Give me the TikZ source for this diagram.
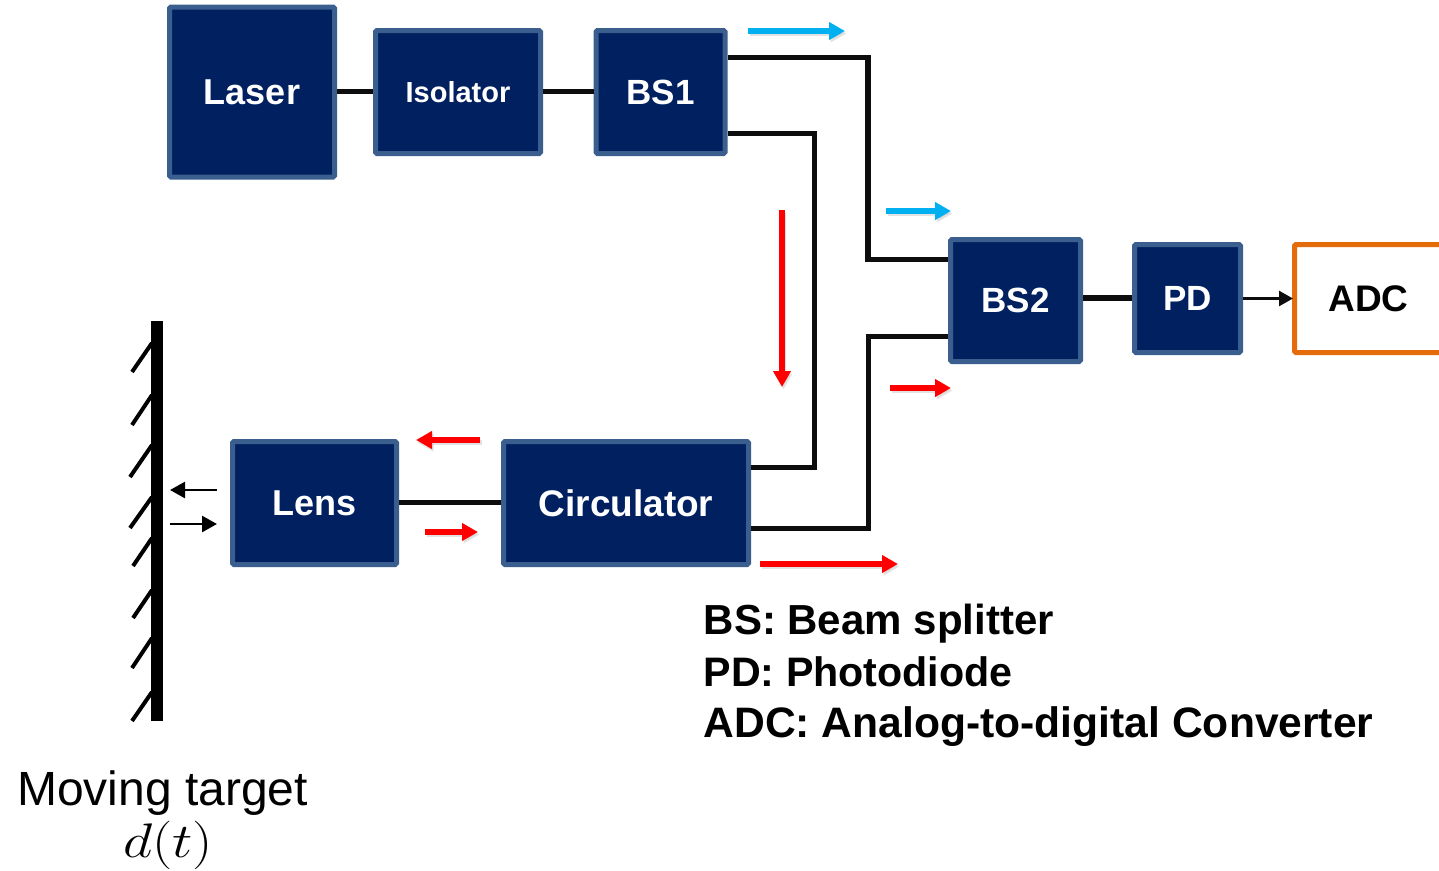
\documentclass[tikz,border=0pt]{standalone}
\usepackage{fontspec}
\usepackage{graphicx}
\setmainfont{Liberation Sans}
\usetikzlibrary{arrows.meta}
\definecolor{navy}{HTML}{002060}
\definecolor{edgeblue}{HTML}{3A5F8F}
\definecolor{adcorange}{HTML}{E46C0A}
\definecolor{beamblue}{HTML}{00B0F0}
\definecolor{beamred}{HTML}{FF0000}
\definecolor{wire}{HTML}{0D0D0D}
\newcommand{\pxfont}[1]{\fontsize{#1}{#1}\selectfont\bfseries}
\tikzset{
  x=1pt,y=-1pt,
  blockbox/.style={draw=edgeblue,fill=navy,line width=5pt,rounded corners=1.5pt,text=white,inner sep=0pt,align=center},
  wireline/.style={draw=wire,line width=5.5pt},
  beamline/.style={line width=5.5pt,-{Triangle[length=16pt,width=17pt]}},
  smallbeam/.style={draw=black,line width=2.5pt,-{Triangle[length=15pt,width=16pt]}},
  hatchline/.style={draw=black,line width=4pt},
  legendtext/.style={anchor=base west,inner sep=0pt},
}
\begin{document}
\begin{tikzpicture}
\useasboundingbox (0,0) rectangle (1439,870);
% blocks
\node[blockbox,minimum width=165pt,minimum height=170pt,font=\pxfont{36}] (laser) at (252,92) {Laser};
\node[blockbox,minimum width=165pt,minimum height=123pt,font=\pxfont{29}] (iso) at (458,92) {Isolator};
\node[blockbox,minimum width=129pt,minimum height=123pt,font=\pxfont{35}] (bsone) at (660.5,92) {BS1};
\node[blockbox,minimum width=130pt,minimum height=122pt,font=\pxfont{35}] (bstwo) at (1015.5,300.5) {BS2};
\node[blockbox,minimum width=106pt,minimum height=108pt,font=\pxfont{35}] (pd) at (1187.5,298.5) {PD};
\node[blockbox,draw=adcorange,fill=white,text=black,minimum width=148pt,minimum height=108pt,font=\pxfont{37}] (adc) at (1368.5,298.5) {ADC};
\node[blockbox,minimum width=164pt,minimum height=123pt,font=\pxfont{36}] (lens) at (314.5,503) {Lens};
\node[blockbox,minimum width=245pt,minimum height=123pt,font=\pxfont{37}] (circ) at (626,503) {Circulator};
% wires
\draw[wireline] (laser.east|-0,91.5) -- (iso.west|-0,91.5);
\draw[wireline] (iso.east|-0,91.5) -- (bsone.west|-0,91.5);
\draw[wireline,line join=miter] (bsone.east|-0,57.5) -| (868,259.5) -- (bstwo.west|-0,259.5);
\draw[wireline,line join=miter] (bsone.east|-0,133.5) -| (814.5,467.5) -- (circ.east|-0,467.5);
\draw[wireline,line join=miter] (circ.east|-0,528.5) -| (868.5,336.5) -- (bstwo.west|-0,336.5);
\draw[wireline] (lens.east|-0,502.5) -- (circ.west|-0,502.5);
\draw[wireline] (bstwo.east|-0,298) -- (pd.west|-0,298);
\draw[draw=wire,line width=2.5pt,-{Triangle[length=14pt,width=15pt]}] (pd.east) -- ([xshift=1pt]adc.west);
% beams
\coordinate (ba) at (748,31); \coordinate (bb) at (845,31);
\coordinate (bc) at (886,211); \coordinate (bd) at (951,211);
\coordinate (ra) at (782,210); \coordinate (rb) at (782,387);
\coordinate (rc) at (890,388); \coordinate (rd) at (951,388);
\coordinate (re) at (480,440); \coordinate (rf) at (416,440);
\coordinate (rg) at (425,532); \coordinate (rh) at (478,532);
\coordinate (ri) at (760,564); \coordinate (rj) at (898,564);
\foreach \s/\e in {ba/bb,bc/bd,ra/rb,rc/rd,re/rf,rg/rh,ri/rj}
  \draw[beamline,draw=black!25,opacity=.45] ([xshift=1.5pt,yshift=-2.5pt]\s) -- ([xshift=1.5pt,yshift=-2.5pt]\e);
\draw[beamline,draw=beamblue] (ba) -- (bb);
\draw[beamline,draw=beamblue] (bc) -- (bd);
\draw[beamline,draw=beamred] (ra) -- (rb);
\draw[beamline,draw=beamred] (rc) -- (rd);
\draw[beamline,draw=beamred] (re) -- (rf);
\draw[beamline,draw=beamred] (rg) -- (rh);
\draw[beamline,draw=beamred] (ri) -- (rj);
% mirror
\coordinate (mt) at (157,321); \coordinate (mb) at (157,721);
\draw[draw=black,line width=12pt] (mt) -- (mb);
\foreach \ya/\xb/\yb in {343/132/372,395/132/425,445/130/477,497/130/528,538/133/566,590/133/618,638/132/668,692/132/721}
  \draw[hatchline] (152,\ya) -- (\xb,\yb);
\coordinate (sa) at (217,490); \coordinate (sb) at (170,490);
\coordinate (sc) at (170,524); \coordinate (sd) at (217,524);
\draw[smallbeam] (sa) -- (sb);
\draw[smallbeam] (sc) -- (sd);
% texts
\node[legendtext,font=\pxfont{42}] (lg1) at (703.5,634) {BS: Beam splitter};
\node[legendtext,font=\pxfont{41.2}] (lg2) at (703.5,686) {PD: Photodiode};
\node[legendtext,font=\pxfont{42.6}] (lg3) at (703.5,737.5) {ADC: Analog-to-digital Converter};
\node[inner sep=0pt,font=\fontsize{48}{48}\selectfont] (tgt) at (162.5,793) {Moving target};
\node[inner sep=0pt] (dt) at (168,845) {\scalebox{2.3}[1.95]{\fontsize{24}{24}\selectfont$d(t)$}};
\end{tikzpicture}
\end{document}
